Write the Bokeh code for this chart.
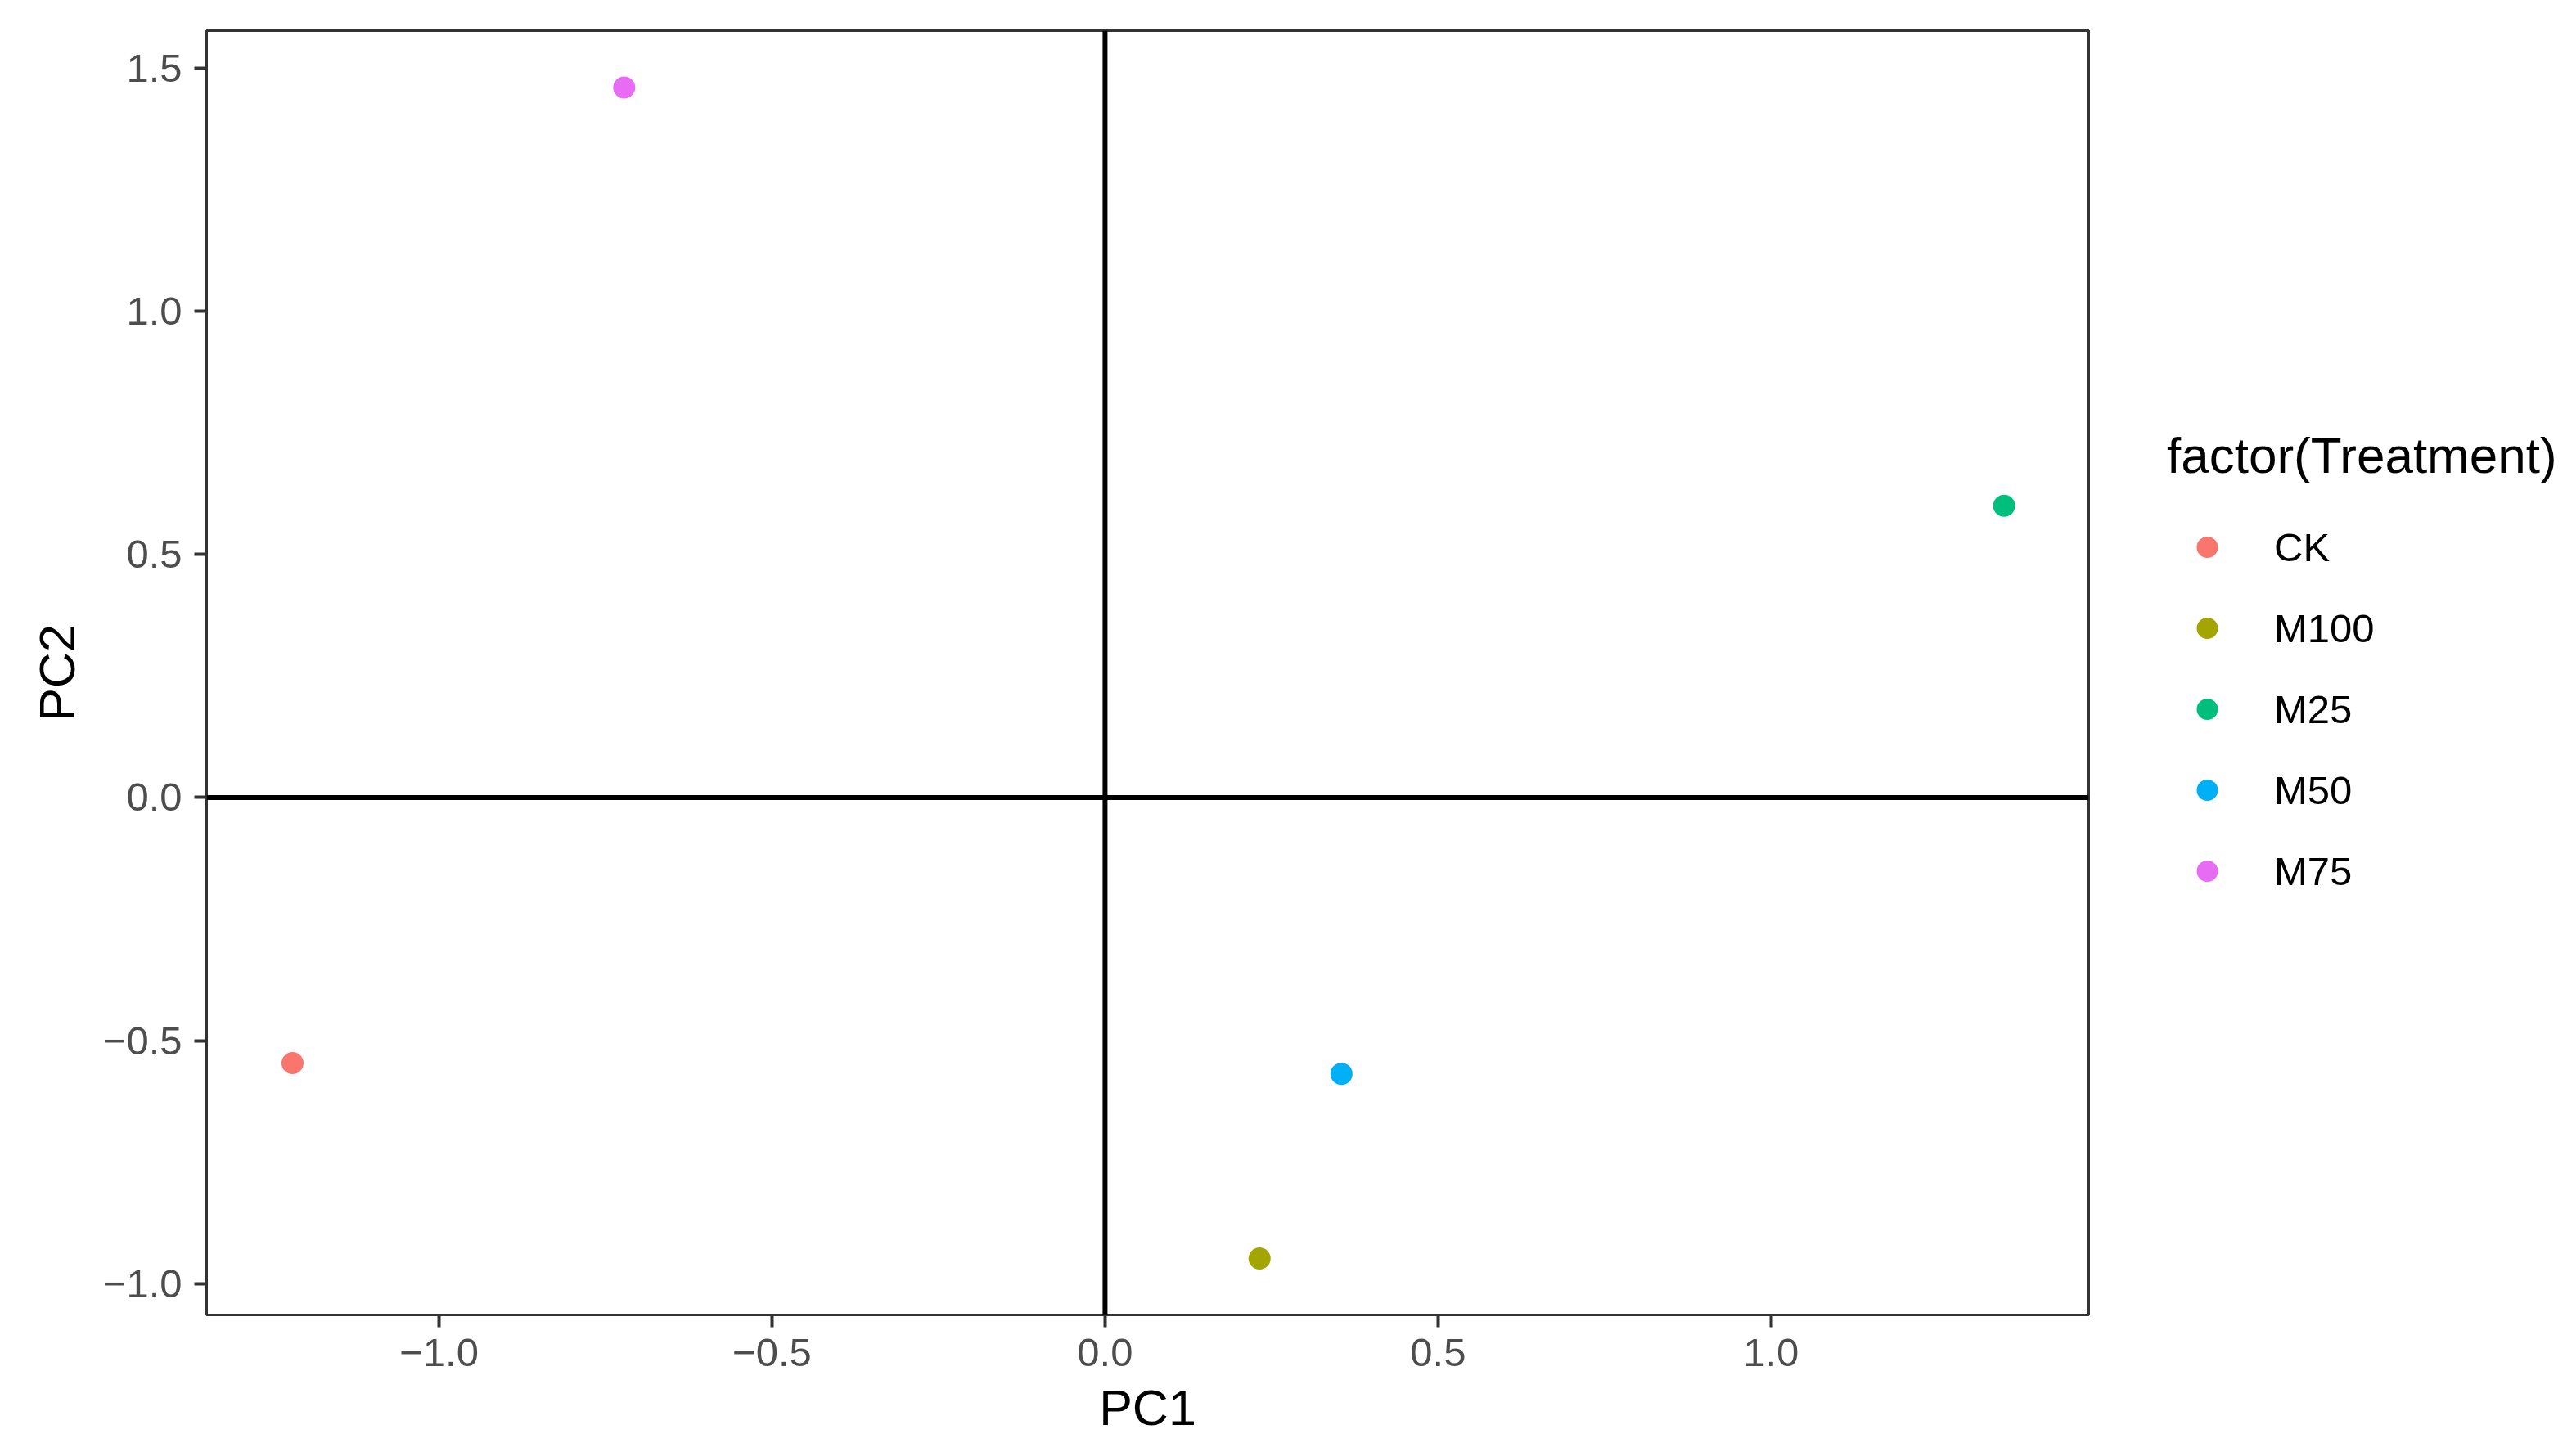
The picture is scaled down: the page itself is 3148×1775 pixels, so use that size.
from bokeh.plotting import figure
from bokeh.layouts import row
from bokeh.models import (ColumnDataSource, Range1d, FixedTicker, Span, Legend, LegendItem)
from bokeh.embed import file_html
from bokeh.resources import INLINE

# ---- data ----
treatments = ["CK", "M100", "M25", "M50", "M75"]
pc1 = [-1.220, 0.232, 1.350, 0.355, -0.722]
pc2 = [-0.546, -0.948, 0.600, -0.568, 1.460]
colors = ["#F8766D", "#A3A500", "#00BF7D", "#00B0F6", "#E76BF3"]

x_ticks = [-1.0, -0.5, 0.0, 0.5, 1.0]
x_tick_labels = ["\u22121.0", "\u22120.5", "0.0", "0.5", "1.0"]
y_ticks = [-1.0, -0.5, 0.0, 0.5, 1.0, 1.5]
y_tick_labels = ["\u22121.0", "\u22120.5", "0.0", "0.5", "1.0", "1.5"]

x_title = "PC1"
y_title = "PC2"
legend_title = "factor(Treatment)"

FONT = "Liberation Sans"

W, H = 3132, 1759
BL, BT, FW, FH = 252, 37, 2300, 1570
BR = 10
W1 = BL + FW + BR
W2 = W - W1

# ---- main panel ----
p = figure(width=W1, height=H, output_backend="svg", toolbar_location=None,
           x_range=Range1d(-1.349, 1.477), y_range=Range1d(-1.064, 1.577),
           min_border_left=BL, min_border_right=BR, min_border_top=BT,
           min_border_bottom=H - BT - FH)

p.background_fill_color = "white"
p.border_fill_color = "white"
p.outline_line_color = "#333333"
p.outline_line_width = 3
p.xgrid.visible = False
p.ygrid.visible = False

# zero reference lines
p.add_layout(Span(location=0, dimension="width", line_color="black", line_width=6))
p.add_layout(Span(location=0, dimension="height", line_color="black", line_width=6))

# ---- legend panel (separate canvas to the right of the main panel) ----
q = figure(width=W2, height=H, output_backend="svg", toolbar_location=None,
           x_range=Range1d(100, 101), y_range=Range1d(100, 101),
           x_axis_location=None, y_axis_location=None,
           min_border_left=0, min_border_right=0, min_border_top=0, min_border_bottom=0)
q.outline_line_color = None
q.xgrid.visible = False
q.ygrid.visible = False
q.background_fill_color = "white"
q.border_fill_color = "white"

items = []
for name, x, y, c in zip(treatments, pc1, pc2, colors):
    src = ColumnDataSource(dict(x=[x], y=[y]))
    p.scatter("x", "y", source=src, size=27, fill_color=c, line_color=None)
    r = q.scatter("x", "y", source=src, size=27, fill_color=c, line_color=None)
    items.append(LegendItem(label=name, renderers=[r]))

for ax, ticks, labels in ((p.xaxis[0], x_ticks, x_tick_labels), (p.yaxis[0], y_ticks, y_tick_labels)):
    ax.ticker = FixedTicker(ticks=ticks)
    ax.major_label_overrides = {t: l for t, l in zip(ticks, labels)}
    ax.minor_tick_line_color = None
    ax.axis_line_color = None
    ax.major_tick_line_color = "#333333"
    ax.major_tick_line_width = 4
    ax.major_tick_in = 0
    ax.major_tick_out = 15
    ax.major_label_text_font = FONT
    ax.major_label_text_font_size = "49px"
    ax.major_label_text_color = "#4D4D4D"
    ax.axis_label_text_font = FONT
    ax.axis_label_text_font_size = "61px"
    ax.axis_label_text_font_style = "normal"
    ax.axis_label_text_color = "black"

p.xaxis.axis_label = x_title
p.yaxis.axis_label = y_title
p.xaxis.major_label_standoff = 14
p.xaxis.axis_label_standoff = 14
p.yaxis.major_label_standoff = 15
p.yaxis.axis_label_standoff = 19

legend = Legend(items=items, location=(86, 510), title=legend_title,
                title_text_font=FONT, title_text_font_size="62px", title_text_color="black",
                title_text_font_style="normal", title_standoff=44,
                label_text_font=FONT, label_text_font_size="49px", label_text_color="black",
                glyph_width=98, glyph_height=65, label_height=65, label_standoff=33,
                spacing=34, padding=0, margin=0, border_line_color=None,
                background_fill_alpha=0)
q.add_layout(legend, "center")

open("out.html", "w").write(file_html(row(p, q), INLINE))
